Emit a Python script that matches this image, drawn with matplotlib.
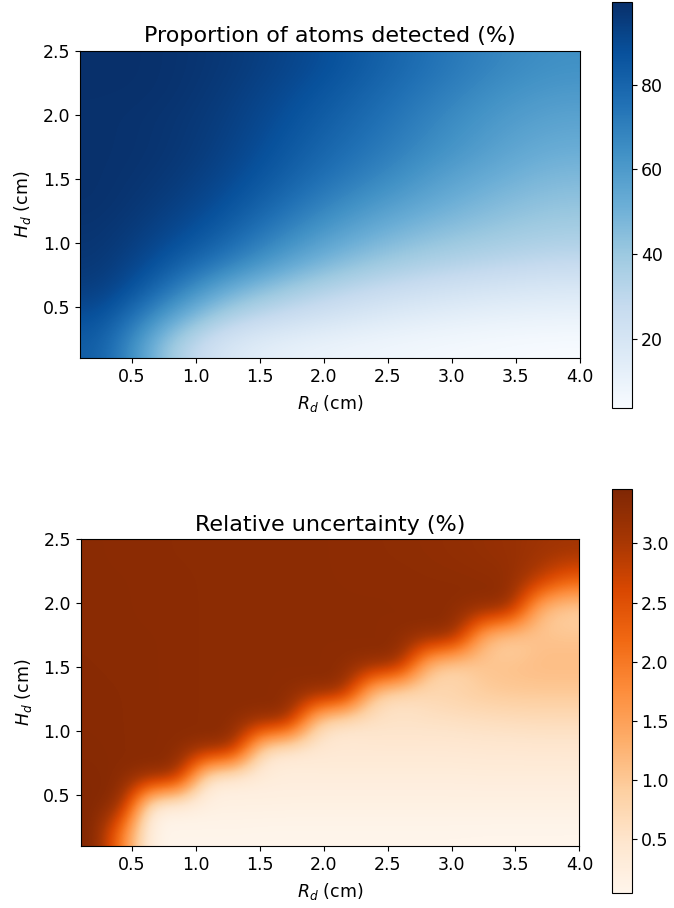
import numpy as np
import matplotlib
matplotlib.use("Agg")
import matplotlib.pyplot as plt

plt.rcParams['font.family'] = ['DejaVu Sans']
plt.rcParams['font.size'] = 12.5

# Grid extents (cm)
R_range = [0.1, 4.0]
H_range = [0.1, 2.5]

# Proportion of atoms detected (%) : rows = H (bottom -> top), cols = R (left -> right)
detected = [
    [84.0, 40.0, 19.0, 12.0, 9.0, 7.0, 5.5, 4.5, 3.6],
    [89.0, 60.0, 36.0, 27.0, 21.0, 16.0, 13.0, 11.0, 10.0],
    [95.0, 78.0, 55.0, 42.0, 33.0, 27.0, 23.0, 20.0, 18.0],
    [97.0, 87.0, 75.0, 60.0, 48.0, 40.0, 35.0, 32.0, 29.0],
    [98.0, 92.0, 84.0, 71.0, 59.0, 50.0, 44.0, 40.0, 37.0],
    [99.0, 95.0, 89.0, 79.0, 68.0, 59.0, 52.0, 46.0, 42.0],
    [99.0, 97.0, 92.0, 84.0, 75.0, 67.0, 58.0, 52.0, 47.0],
    [99.0, 98.0, 94.0, 87.0, 79.0, 72.0, 64.0, 57.0, 52.0],
    [99.0, 98.0, 95.0, 89.0, 82.0, 75.0, 67.0, 60.0, 56.0],
    [99.2, 99.0, 96.0, 91.0, 85.0, 78.0, 71.0, 64.0, 60.0],
    [99.5, 99.0, 97.0, 93.0, 88.0, 81.0, 74.0, 68.0, 64.0],
]

# Relative uncertainty (%) : 11 rows (H) x 18 cols (R)
uncertainty = [
    [3.46, 1.90, 0.07, 0.06, 0.06, 0.06, 0.05, 0.05, 0.05, 0.05, 0.05, 0.05, 0.05, 0.05, 0.045, 0.045, 0.045, 0.044],
    [3.40, 3.32, 0.20, 0.17, 0.17, 0.17, 0.17, 0.16, 0.16, 0.16, 0.16, 0.16, 0.16, 0.16, 0.16, 0.16, 0.16, 0.16],
    [3.38, 3.34, 3.32, 3.30, 0.35, 0.28, 0.28, 0.27, 0.27, 0.27, 0.27, 0.27, 0.27, 0.27, 0.28, 0.28, 0.28, 0.28],
    [3.36, 3.34, 3.33, 3.32, 3.31, 3.30, 0.55, 0.35, 0.40, 0.40, 0.40, 0.40, 0.40, 0.40, 0.42, 0.42, 0.43, 0.43],
    [3.35, 3.34, 3.33, 3.32, 3.31, 3.31, 3.30, 3.30, 0.75, 0.45, 0.55, 0.55, 0.55, 0.57, 0.60, 0.62, 0.65, 0.65],
    [3.35, 3.34, 3.33, 3.32, 3.31, 3.31, 3.30, 3.30, 3.30, 3.30, 0.90, 0.55, 0.75, 0.85, 0.95, 1.00, 1.00, 1.00],
    [3.34, 3.33, 3.33, 3.32, 3.31, 3.31, 3.30, 3.30, 3.30, 3.30, 3.30, 3.30, 1.00, 0.70, 1.05, 1.10, 1.15, 1.15],
    [3.34, 3.33, 3.33, 3.32, 3.31, 3.31, 3.30, 3.30, 3.30, 3.30, 3.30, 3.30, 3.30, 3.30, 1.10, 0.75, 1.05, 1.05],
    [3.33, 3.33, 3.32, 3.32, 3.31, 3.31, 3.30, 3.30, 3.30, 3.30, 3.30, 3.30, 3.30, 3.30, 3.30, 3.28, 1.10, 0.80],
    [3.33, 3.33, 3.32, 3.32, 3.31, 3.31, 3.30, 3.30, 3.30, 3.30, 3.30, 3.30, 3.29, 3.29, 3.28, 3.26, 2.90, 2.30],
    [3.33, 3.32, 3.32, 3.31, 3.31, 3.30, 3.30, 3.30, 3.30, 3.30, 3.29, 3.28, 3.27, 3.25, 3.22, 3.18, 3.12, 3.08],
]

xticks = [0.5, 1.0, 1.5, 2.0, 2.5, 3.0, 3.5, 4.0]
yticks = [0.5, 1.0, 1.5, 2.0, 2.5]
cb1_ticks = [20, 40, 60, 80]
cb2_ticks = [0.5, 1.0, 1.5, 2.0, 2.5, 3.0]

W, Hpx = 674, 908
fig = plt.figure(figsize=(W / 100, Hpx / 100), dpi=100)

def fx(px):
    return px / W

def fy(px):
    return 1 - px / Hpx

panels = [
    (detected, 'Blues', 'Proportion of atoms detected (%)', 50.7, 358, 2, 408, cb1_ticks),
    (uncertainty, 'Oranges', 'Relative uncertainty (%)', 539, 846, 489, 893, cb2_ticks),
]

ext = [R_range[0], R_range[1], H_range[0], H_range[1]]
for data, cmap, title, ytop, ybot, cbtop, cbbot, cbt in panels:
    ax = fig.add_axes([fx(80), fy(ybot), fx(580) - fx(80), fy(ytop) - fy(ybot)])
    im = ax.imshow(np.array(data), origin='lower', extent=ext, cmap=cmap,
                   interpolation='bicubic', aspect='equal')
    ax.set_xlim(R_range)
    ax.set_ylim(H_range)
    ax.set_xticks(xticks)
    ax.set_yticks(yticks)
    ax.set_xlabel('$R_d$ (cm)', labelpad=5)
    ax.set_ylabel('$H_d$ (cm)', labelpad=7)
    ax.set_title(title, fontsize=16)
    cax = fig.add_axes([fx(612), fy(cbbot), fx(631.5) - fx(612), fy(cbtop) - fy(cbbot)])
    cb = fig.colorbar(im, cax=cax)
    cb.set_ticks(cbt)

fig.savefig('out.png', dpi=100)
